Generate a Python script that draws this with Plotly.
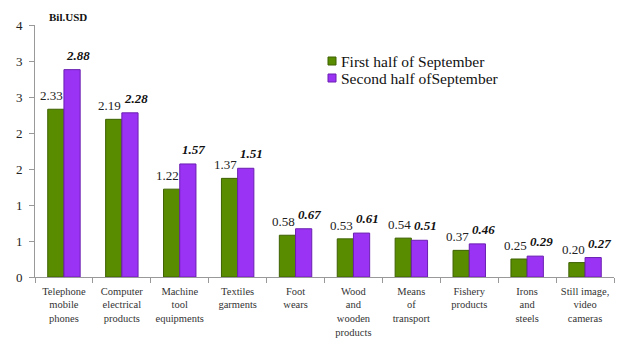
import plotly.graph_objects as go

categories = ["Telephone<br>mobile<br>phones", "Computer<br>electrical<br>products", "Machine<br>tool<br>equipments",
              "Textiles<br>garments", "Foot<br>wears", "Wood<br>and<br>wooden<br>products", "Means<br>of<br>transport",
              "Fishery<br>products", "Irons<br>and<br>steels", "Still image,<br>video<br>cameras"]
first_half = [2.33, 2.19, 1.22, 1.37, 0.58, 0.53, 0.54, 0.37, 0.25, 0.20]
second_half = [2.88, 2.28, 1.57, 1.51, 0.67, 0.61, 0.51, 0.46, 0.29, 0.27]
series_names = ["First half of September", "Second half ofSeptember"]
tick_vals = [0, 0.5, 1, 1.5, 2, 2.5, 3, 3.5]
tick_text = ["0", "1", "1", "2", "2", "3", "3", "4"]

serif = "Liberation Serif, Times New Roman, serif"
green, green_edge = "#5a8c00", "#3d6100"
purple, purple_edge = "#9b33f5", "#6a1fb0"

fig = go.Figure()
fig.add_trace(go.Bar(
    x=categories, y=first_half, name=series_names[0],
    marker=dict(color=green, line=dict(color=green_edge, width=1)),
))
fig.add_trace(go.Bar(
    x=categories, y=second_half, name=series_names[1],
    marker=dict(color=purple, line=dict(color=purple_edge, width=1)),
))

L, R, T, B = 35, 10, 25, 74
W, H = 624, 351
pw, ph = W - L - R, H - T - B
px = lambda x: (x - L) / pw
py = lambda y: (H - B - y) / ph

shapes = []
annotations = [dict(text="<b>Bil.USD</b>", x=px(47), xref="paper", y=1, yref="paper",
                    showarrow=False, font=dict(family=serif, size=11, color="#111"),
                    xanchor="left", yanchor="bottom")]
# data labels
for c, v1, v2 in zip(categories, first_half, second_half):
    annotations.append(dict(text=f"{v1:.2f}", x=c, y=v1, xref="x", yref="y",
                            showarrow=False, xanchor="center", yanchor="bottom",
                            xshift=-12, yshift=4,
                            font=dict(family=serif, size=13, color="#222")))
    annotations.append(dict(text=f"<b><i>{v2:.2f}</i></b>", x=c, y=v2, xref="x", yref="y",
                            showarrow=False, xanchor="center", yanchor="bottom",
                            xshift=14, yshift=5,
                            font=dict(family=serif, size=13, color="#111")))
# legend
for i, (name, c, e) in enumerate(zip(series_names, [green, purple], [green_edge, purple_edge])):
    yc = 61 + 17 * i
    shapes.append(dict(type="rect", xref="paper", yref="paper",
                       x0=px(328), x1=px(336), y0=py(yc + 4), y1=py(yc - 4),
                       fillcolor=c, line=dict(color=e, width=1)))
    annotations.append(dict(text=name, x=px(340), y=py(yc), xref="paper", yref="paper",
                            showarrow=False, xanchor="left", yanchor="middle", borderpad=0,
                            font=dict(family=serif, size=15.5, color="#111")))

fig.update_layout(
    width=W, height=H,
    margin=dict(l=L, r=R, t=T, b=B),
    paper_bgcolor="white", plot_bgcolor="white",
    barmode="group", bargap=0.44, bargroupgap=0,
    font=dict(family=serif, color="#222"),
    showlegend=False,
    shapes=shapes, annotations=annotations,
)
fig.update_xaxes(
    showline=True, linecolor="#999", linewidth=1,
    ticks="outside", tickson="boundaries", ticklen=5, tickcolor="#999",
    tickfont=dict(family=serif, size=10.5, color="#333"),
    showgrid=False, tickangle=0, ticklabelstandoff=4,
)
fig.update_yaxes(
    range=[0, 3.5], tickvals=tick_vals, ticktext=tick_text,
    showline=True, linecolor="#999", linewidth=1,
    ticks="outside", ticklen=5, tickcolor="#999",
    tickfont=dict(family=serif, size=13, color="#222"),
    showgrid=False, zeroline=False, ticklabelstandoff=4,
)

fig.write_html("out.html")
